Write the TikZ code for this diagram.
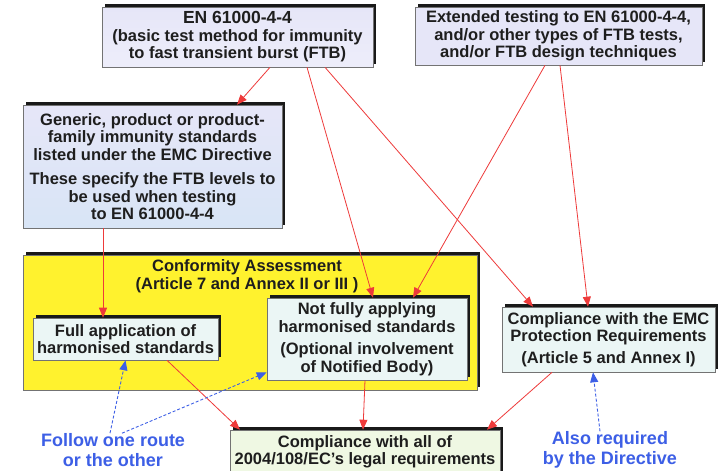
\documentclass[tikz,border=0pt]{standalone}
\usepackage{fontspec}
\setmainfont{Liberation Sans}
\usetikzlibrary{arrows.meta,shadows,calc}
\definecolor{lav}{HTML}{E6E6F8}
\definecolor{lavb}{HTML}{D8E5F6}
\definecolor{cyanbox}{HTML}{EBF6F5}
\definecolor{greenbox}{HTML}{EFF8E3}
\definecolor{ylw}{HTML}{FFF22E}
\definecolor{redline}{HTML}{EE3A3A}
\definecolor{bluel}{HTML}{3D5FE6}
\definecolor{txt}{HTML}{1E1E1E}
\tikzset{
  box/.style={draw=black!55, line width=0.6pt,
    general shadow={fill=black!90, shadow xshift=3pt, shadow yshift=3pt},
    align=center, text=txt, inner sep=0pt,
    font=\fontsize{16.5}{17.5}\selectfont\bfseries},
  redarrow/.style={draw=redline, line width=0.8pt, -{Triangle[length=10pt,width=8pt]}},
  bluearrow/.style={draw=bluel, line width=0.9pt, dash pattern=on 3pt off 2pt,
    -{Triangle[length=10pt,width=8pt]}},
  bluelabel/.style={text=bluel, align=center, inner sep=0pt,
    font=\fontsize{18}{20}\selectfont\bfseries},
}
\begin{document}
\begin{tikzpicture}[x=1pt,y=-1pt]
\useasboundingbox (0,0) rectangle (718,471);
\fill[white] (0,0) rectangle (718,471);

% top boxes
\node[box, top color=lav, bottom color=lav!70!white, minimum width=271pt, minimum height=60pt]
  (A) at (237.5,37) {{\fontsize{17.5}{18.5}\selectfont EN 61000-4-4}\\(basic test method for immunity\\to fast transient burst (FTB)};
\node[box, fill=lav, minimum width=287pt, minimum height=58pt]
  (B) at (558.5,36) {Extended testing to EN 61000-4-4,\\and/or other types of FTB tests,\\and/or FTB design techniques};
\node[box, top color=lav, bottom color=lavb, minimum width=259pt, minimum height=123pt]
  (C) at (152.5,166.5) {Generic, product or product-\\family immunity standards\\listed under the EMC Directive\\[7pt]These specify the FTB levels to\\be used when testing\\to EN 61000-4-4};

% conformity assessment
\node[box, fill=ylw, minimum width=454pt, minimum height=135pt] (Y) at (250,322.5) {};
\node[align=center, text=txt, inner sep=0pt, font=\fontsize{16.5}{17.5}\selectfont\bfseries]
  (YT) at (247,276) {Conformity Assessment\\(Article 7 and Annex II or III )};
\node[box, fill=cyanbox, minimum width=185pt, minimum height=42pt]
  (F) at (125.5,339) {Full application of\\harmonised standards};
\node[box, fill=cyanbox, minimum width=200pt, minimum height=82pt]
  (N) at (367,339) {Not fully applying\\harmonised standards\\[5pt](Optional involvement\\of Notified Body)};
\node[box, fill=cyanbox, minimum width=213pt, minimum height=65pt]
  (E) at (608.5,339.5) {Compliance with the EMC\\Protection Requirements\\[4pt](Article 5 and Annex I)};
\node[box, fill=greenbox, minimum width=270pt, minimum height=44pt]
  (L) at (365,452) {Compliance with all of\\2004/108/EC’s legal requirements};

% blue labels
\node[bluelabel] (FL) at (113,450) {Follow one route\\or the other};
\node[bluelabel] (AL) at (610,450) {Also required\\by the Directive};

% red arrows
\draw[redarrow] ([xshift=32.5pt]A.south) -- ([xshift=84.5pt]C.north);
\draw[redarrow] ([xshift=69.5pt]A.south) -- ([xshift=6pt]N.north);
\draw[redarrow] ([xshift=87.5pt]A.south) -- ([xshift=-75.5pt]E.north);
\draw[redarrow] ([xshift=-13.5pt]B.south) -- ([xshift=46pt]N.north);
\draw[redarrow] ([xshift=1.5pt]B.south) -- ([xshift=-20.5pt]E.north);
\draw[redarrow] ([xshift=-49.5pt]C.south) -- ([xshift=-22.5pt]F.north);
\draw[redarrow] ([xshift=41.5pt]F.south) -- ([xshift=-125pt]L.north);
\draw[redarrow] ([xshift=-2pt]N.south) -- ([xshift=-2pt]L.north);
\draw[redarrow] ([xshift=-56.5pt]E.south) -- ([xshift=122pt]L.north);

% blue dashed arrows
\draw[bluearrow] ([xshift=-3pt]FL.north) -- (F.south);
\draw[bluearrow] ([xshift=9pt]FL.north) -- ([yshift=8pt]N.south west);
\draw[bluearrow] ([xshift=-10pt]AL.north) -- ([xshift=-15.5pt]E.south);
\end{tikzpicture}
\end{document}
